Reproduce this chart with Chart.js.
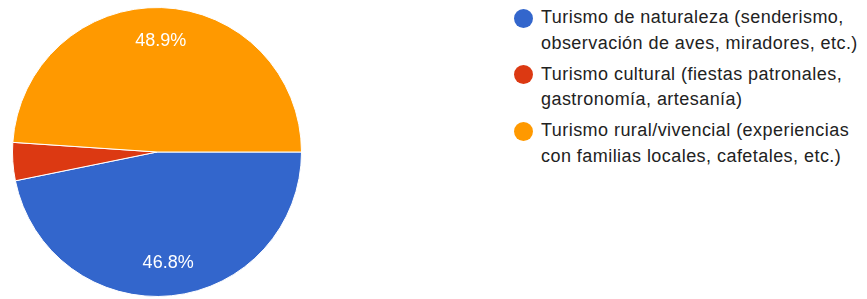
<!DOCTYPE html>
<html>
<head>
<meta charset="utf-8">
<script src="https://cdn.jsdelivr.net/npm/chart.js@4.4.1/dist/chart.umd.min.js"></script>
<style>
  html, body { margin: 0; padding: 0; background: #fff; }
  body { width: 867px; height: 299px; position: relative; overflow: hidden; font-family: "Liberation Sans", Arial, sans-serif; }
  #pieBox { position: absolute; left: 12px; top: 7px; width: 290px; height: 290px; }
  #legend { position: absolute; left: 514px; top: 5px; margin: 0; padding: 0; list-style: none; }
  #legend li { position: relative; padding-left: 27px; font-size: 18px; letter-spacing: 0.45px; line-height: 25.5px; color: #222; margin-bottom: 5.5px; white-space: nowrap; }
  #legend li span.dot { position: absolute; left: 0; top: 3.5px; width: 19px; height: 19px; border-radius: 50%; }
</style>
</head>
<body>
<div id="pieBox"><canvas id="pieChart"></canvas></div>
<ul id="legend"></ul>
<script>
// categories (legend lines)
var categories = [
  ['Turismo de naturaleza (senderismo,', 'observación de aves, miradores, etc.)'],
  ['Turismo cultural (fiestas patronales,', 'gastronomía, artesanía)'],
  ['Turismo rural/vivencial (experiencias', 'con familias locales, cafetales, etc.)']
];
// responses per category
var responses = [22, 2, 23];
var colors = ['#3366cc', '#dc3912', '#ff9900'];

var total = responses.reduce(function(a, b){ return a + b; }, 0);

// percentage labels inside the slices
var sliceLabels = {
  id: 'sliceLabels',
  afterDatasetsDraw: function(chart){
    var ctx = chart.ctx;
    var meta = chart.getDatasetMeta(0);
    ctx.save();
    ctx.fillStyle = '#fff';
    ctx.font = '18px "Liberation Sans", Arial, sans-serif';
    ctx.textAlign = 'center';
    ctx.textBaseline = 'middle';
    meta.data.forEach(function(arc, i){
      var pct = responses[i] / total * 100;
      if (pct < 8) return;
      var mid = (arc.startAngle + arc.endAngle) / 2;
      var r = arc.outerRadius * 0.77;
      ctx.fillText(pct.toFixed(1) + '%', arc.x + Math.cos(mid) * r, arc.y + Math.sin(mid) * r);
    });
    ctx.restore();
  }
};

var pieChart = new Chart(document.getElementById('pieChart'), {
  type: 'pie',
  data: {
    labels: categories,
    datasets: [{
      data: responses,
      backgroundColor: colors,
      borderColor: '#fff',
      borderWidth: 1
    }]
  },
  options: {
    responsive: true,
    maintainAspectRatio: false,
    animation: false,
    rotation: 90,
    plugins: {
      legend: { display: false },
      tooltip: { enabled: false }
    }
  },
  plugins: [sliceLabels]
});

// legend on the right
var legend = document.getElementById('legend');
categories.forEach(function(lines, i){
  var li = document.createElement('li');
  var dot = document.createElement('span');
  dot.className = 'dot';
  dot.style.background = colors[i];
  li.appendChild(dot);
  lines.forEach(function(line, j){
    if (j) li.appendChild(document.createElement('br'));
    li.appendChild(document.createTextNode(line));
  });
  legend.appendChild(li);
});
</script>
</body>
</html>
